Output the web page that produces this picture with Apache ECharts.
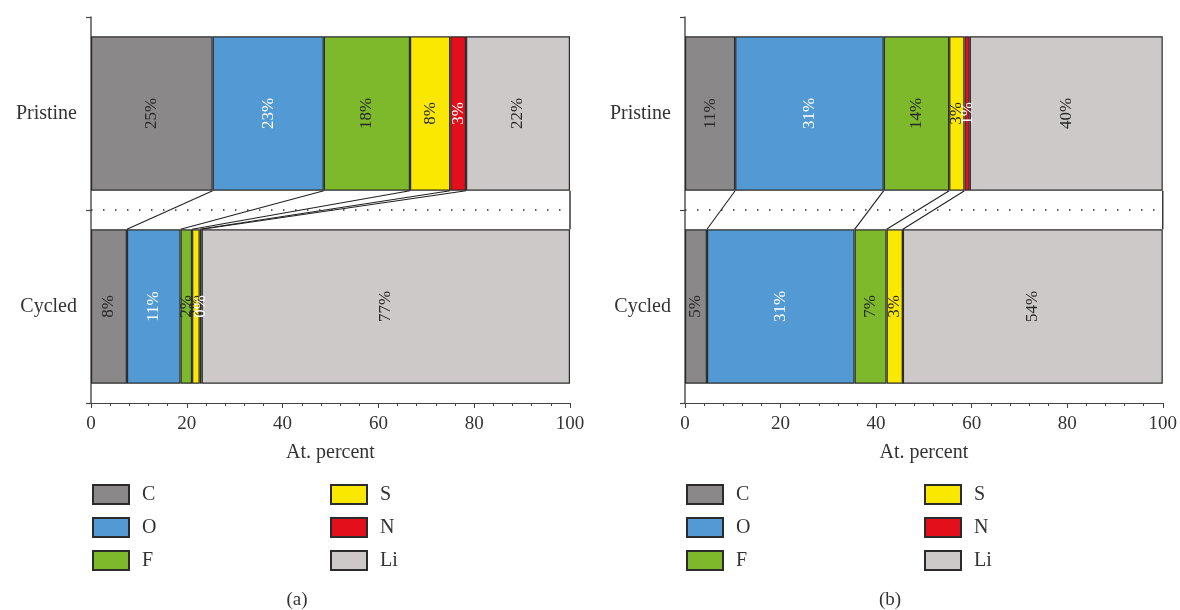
<!DOCTYPE html>
<html>
<head>
<meta charset="utf-8">
<script src="https://cdn.jsdelivr.net/npm/echarts@6/dist/echarts.min.js"></script>
<style>html,body{margin:0;padding:0;background:#fff;}#chart{width:1180px;height:610px;}</style>
</head>
<body>
<div id="chart"></div>
<script>
// ---- data ----
const categories = ['Pristine', 'Cycled'];
const elements = ['C', 'O', 'F', 'S', 'N', 'Li'];
const xTicks = [0, 20, 40, 60, 80, 100];
// panel (a)
const aPristine = [25.4, 23.2, 18.0, 8.4, 3.3, 21.7];
const aCycled   = [7.5, 11.2, 2.4, 1.6, 0.4, 76.9];
// panel (b)
const bPristine = [10.5, 31.1, 13.7, 3.2, 1.1, 40.4];
const bCycled   = [4.6, 30.9, 6.7, 3.4, 0, 54.4];

const colors = ['#8a8889', '#5399d3', '#7db92b', '#fbe800', '#e3101b', '#cdc9c8'];
const labelColors = ['#2a2a2a', '#ffffff', '#2a2a2a', '#2a2a2a', '#ffffff', '#2a2a2a'];
const FONT = '"Liberation Serif", "Times New Roman", serif';
const BORDER = '#2b2b2b';
const BAR_FRAC = 0.8;

function makeGrid(left) {
  return { left: left, top: 17, width: 479, height: 386, containLabel: false };
}
function makeX(gi) {
  return {
    type: 'value', gridIndex: gi, min: 0, max: 100, interval: 20,
    axisLine: { show: true, lineStyle: { color: '#444', width: 1.2 } },
    axisTick: { show: true, length: 5, lineStyle: { color: '#444' } },
    minorTick: { show: true, splitNumber: 5, length: 3, lineStyle: { color: '#444' } },
    splitLine: { show: false },
    axisLabel: { fontFamily: FONT, fontSize: 19, color: '#333', margin: 12,
      formatter: v => xTicks.indexOf(v) >= 0 ? String(v) : '' },
    name: 'At. percent', nameLocation: 'middle', nameGap: 40,
    nameTextStyle: { fontFamily: FONT, fontSize: 20, color: '#333' }
  };
}
function makeY(gi) {
  return {
    type: 'category', gridIndex: gi, data: categories, inverse: true,
    axisLine: { show: true, lineStyle: { color: '#555', width: 1.5 } },
    axisTick: { show: true, length: 5, lineStyle: { color: '#444', width: 1.2 } },
    axisLabel: { fontFamily: FONT, fontSize: 20, color: '#333', margin: 14 },
    splitLine: { show: false }
  };
}

function barSeries(gi, pristine, cycled) {
  return elements.map((el, k) => ({
    type: 'bar', name: el, stack: 'p' + gi,
    xAxisIndex: gi, yAxisIndex: gi,
    barWidth: (BAR_FRAC * 100) + '%',
    data: [pristine[k], cycled[k]],
    itemStyle: { color: colors[k], borderColor: BORDER, borderWidth: 1.2 },
    label: {
      show: true, position: 'inside', rotate: 90,
      fontFamily: FONT, fontSize: 17, color: labelColors[k],
      formatter: p => p.value > 0 ? Math.round(p.value) + '%' : ''
    },
    emphasis: { disabled: true },
    animation: false
  }));
}

function connectorSeries(gi, pristine, cycled) {
  return {
    type: 'custom', xAxisIndex: gi, yAxisIndex: gi,
    data: [[0, 0]], silent: true, animation: false, clip: false, z: 5,
    renderItem: function (params, api) {
      const band = api.size([0, 1])[1];
      const half = band * BAR_FRAC / 2;
      const children = [];
      const top0 = api.coord([0, 0]);
      const bot0 = api.coord([0, 1]);
      const yA = top0[1] + half;  // bottom of Pristine bar
      const yB = bot0[1] - half;  // top of Cycled bar
      const yMid = (top0[1] + bot0[1]) / 2;
      const xEnd = api.coord([100, 0])[0];
      // dotted separator
      children.push({ type: 'line', shape: { x1: top0[0], y1: yMid, x2: xEnd, y2: yMid },
        style: { stroke: '#333', lineWidth: 1.5, lineDash: [1.5, 10.5] } });
      // right frame edge
      children.push({ type: 'line', shape: { x1: xEnd, y1: yA, x2: xEnd, y2: yB },
        style: { stroke: '#3a3a3a', lineWidth: 1.5 } });
      let cp = 0, cc = 0;
      for (let k = 0; k < elements.length - 1; k++) {
        cp += pristine[k]; cc += cycled[k];
        if (!(pristine[k] > 0 && cycled[k] > 0)) continue;
        const p1 = api.coord([cp, 0]);
        const p2 = api.coord([cc, 1]);
        children.push({ type: 'line', shape: { x1: p1[0], y1: yA, x2: p2[0], y2: yB },
          style: { stroke: '#222', lineWidth: 1.1 } });
      }
      return { type: 'group', children: children };
    }
  };
}

function makeLegend(left, names) {
  return {
    orient: 'vertical', left: left, top: 484, data: names, padding: 0,
    itemWidth: 36, itemHeight: 19, itemGap: 12, icon: 'rect',
    selectedMode: false,
    textStyle: { fontFamily: FONT, fontSize: 20, color: '#333', padding: [0, 0, 0, 8] }
  };
}

const option = {
  backgroundColor: '#fff',
  animation: false,
  grid: [makeGrid(91), makeGrid(685)],
  xAxis: [makeX(0), makeX(1)],
  yAxis: [makeY(0), makeY(1)],
  legend: [
    makeLegend(92, ['C', 'O', 'F']),
    makeLegend(330, ['S', 'N', 'Li']),
    makeLegend(686, ['C', 'O', 'F']),
    makeLegend(924, ['S', 'N', 'Li'])
  ],
  graphic: [
    { type: 'text', x: 297, y: 600, style: { text: '(a)', font: '19px ' + FONT, fill: '#333', textAlign: 'center', textVerticalAlign: 'middle' } },
    { type: 'text', x: 890, y: 600, style: { text: '(b)', font: '19px ' + FONT, fill: '#333', textAlign: 'center', textVerticalAlign: 'middle' } }
  ],
  series: [].concat(
    barSeries(0, aPristine, aCycled),
    [connectorSeries(0, aPristine, aCycled)],
    barSeries(1, bPristine, bCycled),
    [connectorSeries(1, bPristine, bCycled)]
  )
};

const chart = echarts.init(document.getElementById('chart'), null, { renderer: 'canvas' });
chart.setOption(option);
</script>
</body>
</html>
